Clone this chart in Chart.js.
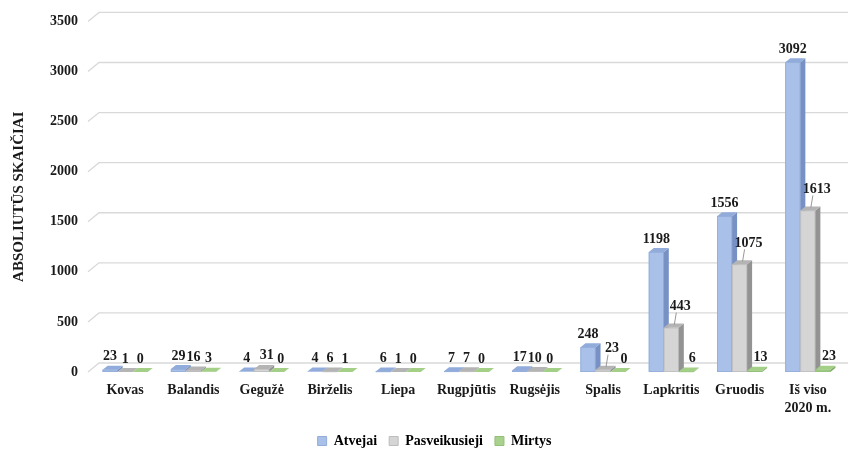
<!DOCTYPE html>
<html>
<head>
<meta charset="utf-8">
<script src="https://cdn.jsdelivr.net/npm/chart.js@4"></script>
<style>
  html, body { margin: 0; padding: 0; background: #ffffff; }
  #c { display: block; }
</style>
</head>
<body>
<canvas id="c" width="849" height="450"></canvas>
<script>
// COVID-19 cases by month, 2020
const categories = ['Kovas', 'Balandis', 'Gegužė', 'Birželis', 'Liepa', 'Rugpjūtis', 'Rugsėjis', 'Spalis', 'Lapkritis', 'Gruodis', ['Iš viso', '2020 m.']];
const atvejai = [23, 29, 4, 4, 6, 7, 17, 248, 1198, 1556, 3092];
const pasveikusieji = [1, 16, 31, 6, 1, 7, 10, 23, 443, 1075, 1613];
const mirtys = [0, 3, 0, 1, 0, 0, 0, 0, 6, 13, 23];
const yTicks = [0, 500, 1000, 1500, 2000, 2500, 3000, 3500];
const seriesNames = ['Atvejai', 'Pasveikusieji', 'Mirtys'];

const SERIF = '"Liberation Serif", "Times New Roman", serif';
const DEPTH_X = 5, DEPTH_Y = 4;       // 3D bar depth
const WALL_X = 11, WALL_Y = 9;        // back wall offset for the grid

const faces = [
  { front: '#a9c1e9', side: '#7791c5', top: '#91abda', edge: '#93acd9' },
  { front: '#d5d5d5', side: '#939393', top: '#b4b4b4', edge: '#bdbdbd' },
  { front: '#a9d18e', side: '#7eaa65', top: '#a3cf87', edge: '#93bf78' }
];

// Gridlines drawn on the back wall, with a short slanted foot on the left
const backWall = {
  id: 'backWall',
  beforeDatasetsDraw(chart) {
    const { ctx, chartArea } = chart;
    const y = chart.scales.y;
    ctx.save();
    ctx.strokeStyle = '#d9d9d9';
    ctx.lineWidth = 1.3;
    yTicks.forEach(v => {
      const py = y.getPixelForValue(v);
      ctx.beginPath();
      ctx.moveTo(chartArea.left - 3, py);
      ctx.lineTo(chartArea.left - 3 + WALL_X, py - WALL_Y);
      ctx.lineTo(chart.width - 1, py - WALL_Y);
      ctx.stroke();
    });
    ctx.restore();
  }
};

// Bars as blocks: front, side and top faces, left to right inside each group
const bar3d = {
  id: 'bar3d',
  afterDatasetsDraw(chart) {
    const { ctx } = chart;
    const metas = chart.data.datasets.map((_, di) => chart.getDatasetMeta(di));
    ctx.save();
    categories.forEach((_, i) => {
      metas.forEach((meta, di) => {
        const f = faces[di];
        const el = meta.data[i];
        const { x, y, base, width } = el.getProps(['x', 'y', 'base', 'width'], true);
        const l = x - width / 2, r = x + width / 2;
        // front
        if (base - y > 0.5) {
          ctx.fillStyle = f.front;
          ctx.fillRect(l, y, width, base - y);
          ctx.strokeStyle = f.edge;
          ctx.lineWidth = 0.8;
          ctx.strokeRect(l + 0.4, y + 0.4, width - 0.8, base - y - 0.8);
        }
        // side
        ctx.fillStyle = f.side;
        ctx.beginPath();
        ctx.moveTo(r, y);
        ctx.lineTo(r + DEPTH_X, y - DEPTH_Y);
        ctx.lineTo(r + DEPTH_X, base - DEPTH_Y);
        ctx.lineTo(r, base);
        ctx.closePath();
        ctx.fill();
        // top
        ctx.fillStyle = f.top;
        ctx.beginPath();
        ctx.moveTo(l, y);
        ctx.lineTo(l + DEPTH_X, y - DEPTH_Y);
        ctx.lineTo(r + DEPTH_X, y - DEPTH_Y);
        ctx.lineTo(r, y);
        ctx.closePath();
        ctx.fill();
      });
    });
    ctx.restore();
  }
};

// Value labels above the bars; where the cases bar is tall, the recovered
// label is set aside with a leader line and the deaths label moves right
const valueLabels = {
  id: 'valueLabels',
  afterDatasetsDraw(chart) {
    const { ctx } = chart;
    ctx.save();
    ctx.font = 'bold 14px ' + SERIF;
    ctx.fillStyle = '#1a1a1a';
    ctx.textAlign = 'center';
    ctx.textBaseline = 'bottom';
    chart.data.datasets.forEach((ds, di) => {
      const meta = chart.getDatasetMeta(di);
      meta.data.forEach((el, i) => {
        const { x, y } = el.getProps(['x', 'y'], true);
        const v = ds.data[i];
        const topBack = y - DEPTH_Y;
        let lx = x, ly = topBack - 2;
        const aside = pasveikusieji[i] >= 20 && atvejai[i] >= 100;
        if (di === 1 && aside) {
          lx = x + 9;
          ly = topBack - 10;
          ctx.strokeStyle = '#8c8c8c';
          ctx.lineWidth = 0.9;
          ctx.beginPath();
          ctx.moveTo(x + 3, topBack + 1);
          ctx.lineTo(lx - 4, ly - 1);
          ctx.stroke();
        } else if (di === 1 && pasveikusieji[i] >= 20) {
          lx = x + 5;
          ly = topBack - 3;
        } else if (di === 2 && aside) {
          lx = x + 6;
        } else if (di === 2 && pasveikusieji[i] >= 20) {
          lx = x + 4;
        }
        ctx.fillText(String(v), lx, ly);
      });
    });
    ctx.restore();
  }
};

// Nudge the legend row slightly right of the canvas centre
const legendShift = {
  id: 'legendShift',
  afterLayout(chart) {
    const lg = chart.legend;
    if (lg) { lg.left += 11; lg.right += 11; }
  }
};

const chart = new Chart(document.getElementById('c'), {
  type: 'bar',
  data: {
    labels: categories,
    datasets: [
      { label: seriesNames[0], data: atvejai, backgroundColor: faces[0].front, borderWidth: 0 },
      { label: seriesNames[1], data: pasveikusieji, backgroundColor: faces[1].front, borderWidth: 0 },
      { label: seriesNames[2], data: mirtys, backgroundColor: faces[2].front, borderWidth: 0 }
    ]
  },
  options: {
    responsive: false,
    animation: false,
    events: [],
    categoryPercentage: 0.66,
    barPercentage: 1.0,
    layout: { padding: { left: 5, right: 7, top: 21, bottom: -8 } },
    plugins: {
      tooltip: { enabled: false },
      legend: {
        position: 'bottom',
        labels: {
          boxWidth: 9,
          boxHeight: 9,
          padding: 12,
          color: '#1a1a1a',
          font: { family: SERIF, size: 14, weight: 'bold' },
          generateLabels(chart) {
            return chart.data.datasets.map((ds, i) => ({
              text: ds.label,
              fillStyle: faces[i].front,
              strokeStyle: faces[i].edge,
              lineWidth: 1,
              datasetIndex: i,
              hidden: false
            }));
          }
        }
      }
    },
    scales: {
      x: {
        grid: { display: false, drawTicks: false },
        border: { display: false },
        ticks: {
          autoSkip: false,
          maxRotation: 0,
          padding: 10,
          color: '#1a1a1a',
          font: { family: SERIF, size: 14, weight: 'bold', lineHeight: 1.25 }
        },
        afterFit(scale) { scale.height = 50; }
      },
      y: {
        min: 0,
        max: 3500,
        afterBuildTicks(scale) { scale.ticks = yTicks.map(v => ({ value: v })); },
        grid: { display: false, drawTicks: false },
        border: { display: false },
        ticks: {
          padding: 13,
          color: '#1a1a1a',
          font: { family: SERIF, size: 14, weight: 'bold' },
          callback: (v) => String(v)
        },
        title: {
          display: true,
          text: 'ABSOLIUTŪS SKAIČIAI',
          color: '#1a1a1a',
          padding: { top: 5, bottom: 0 },
          font: { family: SERIF, size: 15, weight: 'bold' }
        },
        afterFit(scale) { scale.width = 86; }
      }
    }
  },
  plugins: [backWall, bar3d, valueLabels, legendShift]
});
</script>
</body>
</html>
